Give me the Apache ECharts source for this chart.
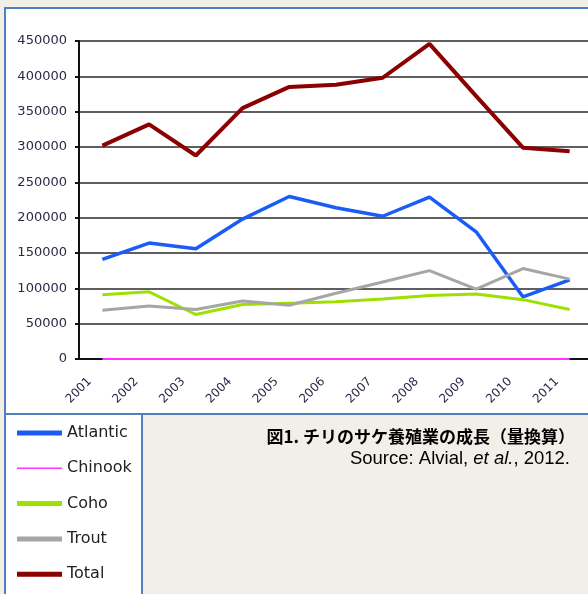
<!DOCTYPE html>
<html>
<head>
<meta charset="utf-8">
<script src="https://cdn.jsdelivr.net/npm/echarts@6.0.0/dist/echarts.min.js"></script>
<style>
  html, body { margin: 0; padding: 0; background: #f2efe9; }
  #main { width: 588px; height: 594px; }
</style>
</head>
<body>
<div id="main"></div>
<script>
(function() {
    var years = ['2001', '2002', '2003', '2004', '2005', '2006', '2007', '2008', '2009', '2010', '2011'];
    var atlantic = [141000, 164000, 156000, 198000, 230000, 214000, 202000, 229000, 180000, 88000, 112000];
    var chinook = [0, 0, 0, 0, 0, 0, 0, 0, 0, 0, 0];
    var coho = [91000, 95000, 63000, 77000, 79000, 81000, 85000, 90000, 92000, 84000, 70000];
    var trout = [69000, 75000, 70000, 82000, 76000, 93000, 109000, 125000, 99000, 128000, 113000];
    var total = [302000, 332000, 288000, 355000, 385000, 388000, 398000, 446000, 372000, 299000, 294000];

    var names = ['Atlantic', 'Chinook', 'Coho', 'Trout', 'Total'];
    var colors = ['#1a5cf5', '#ff33ff', '#9fe000', '#a6a6a6', '#8b0000'];
    var widths = [3.5, 2, 3, 3, 4];
    var values = [atlantic, chinook, coho, trout, total];

    var myChart = echarts.init(document.getElementById('main'));

    var option = {
        backgroundColor: '#f2efe9',
        animation: false,
        grid: {
            left: 79,
            top: 41,
            width: 514,
            height: 318,
            outerBoundsMode: 'none'
        },
        legend: {
            orient: 'vertical',
            left: 17,
            top: 425,
            padding: 0,
            itemWidth: 45,
            itemHeight: 5,
            itemGap: 19.3,
            symbolKeepAspect: true,
            textStyle: { fontSize: 16, fontFamily: 'DejaVu Sans', color: '#222' },
            data: names.map(function(n) {
                return {
                    name: n,
                    icon: n === 'Chinook' ? 'path://M0,0h30v1h-30z' : 'rect'
                };
            })
        },
        xAxis: {
            type: 'category',
            data: years,
            boundaryGap: true,
            axisLine: { lineStyle: { color: '#111', width: 2 } },
            axisTick: { length: 4, lineStyle: { color: '#111', width: 2 } },
            axisLabel: {
                rotate: 45,
                margin: 8,
                padding: [0, 18, 0, 0],
                fontSize: 12,
                fontFamily: 'DejaVu Sans',
                color: '#2a2a48'
            },
            splitLine: { show: false }
        },
        yAxis: {
            type: 'value',
            min: 0,
            max: 450000,
            interval: 50000,
            axisLine: { show: true, lineStyle: { color: '#111', width: 2 } },
            axisTick: { show: true, length: 4, lineStyle: { color: '#111', width: 2 } },
            axisLabel: {
                margin: 12,
                fontSize: 13,
                fontFamily: 'DejaVu Sans',
                color: '#2a2a48',
                formatter: function(v) { return String(v); }
            },
            splitLine: { lineStyle: { color: '#2a2a2a', width: 1.5 } }
        },
        series: names.map(function(n, i) {
            return {
                name: n,
                type: 'line',
                data: values[i],
                symbol: 'none',
                color: colors[i],
                lineStyle: { color: colors[i], width: widths[i] }
            };
        }),
        graphic: [
            {
                type: 'rect',
                z: -10,
                shape: { x: 5, y: 8, width: 600, height: 406 },
                style: { fill: '#fff', stroke: '#4f7fbd', lineWidth: 2 }
            },
            {
                type: 'rect',
                z: -9,
                shape: { x: 5, y: 414, width: 137, height: 200 },
                style: { fill: '#fff', stroke: '#4f7fbd', lineWidth: 2 }
            },
            {
                type: 'text',
                x: 575,
                y: 437,
                style: {
                    text: '図1. チリのサケ養殖業の成長（量換算）',
                    align: 'right',
                    verticalAlign: 'middle',
                    font: 'bold 17px "Noto Sans CJK JP"',
                    fill: '#000'
                }
            },
            {
                type: 'text',
                x: 570,
                y: 459,
                style: {
                    text: '{n|Source: Alvial, }{i|et al.}{n|, 2012.}',
                    align: 'right',
                    verticalAlign: 'middle',
                    rich: {
                        n: { fontSize: 18.5, fontFamily: 'Liberation Sans', color: '#000' },
                        i: { fontSize: 18.5, fontFamily: 'Liberation Sans', fontStyle: 'italic', color: '#000' }
                    }
                }
            }
        ]
    };

    myChart.setOption(option);
})();
</script>
</body>
</html>
